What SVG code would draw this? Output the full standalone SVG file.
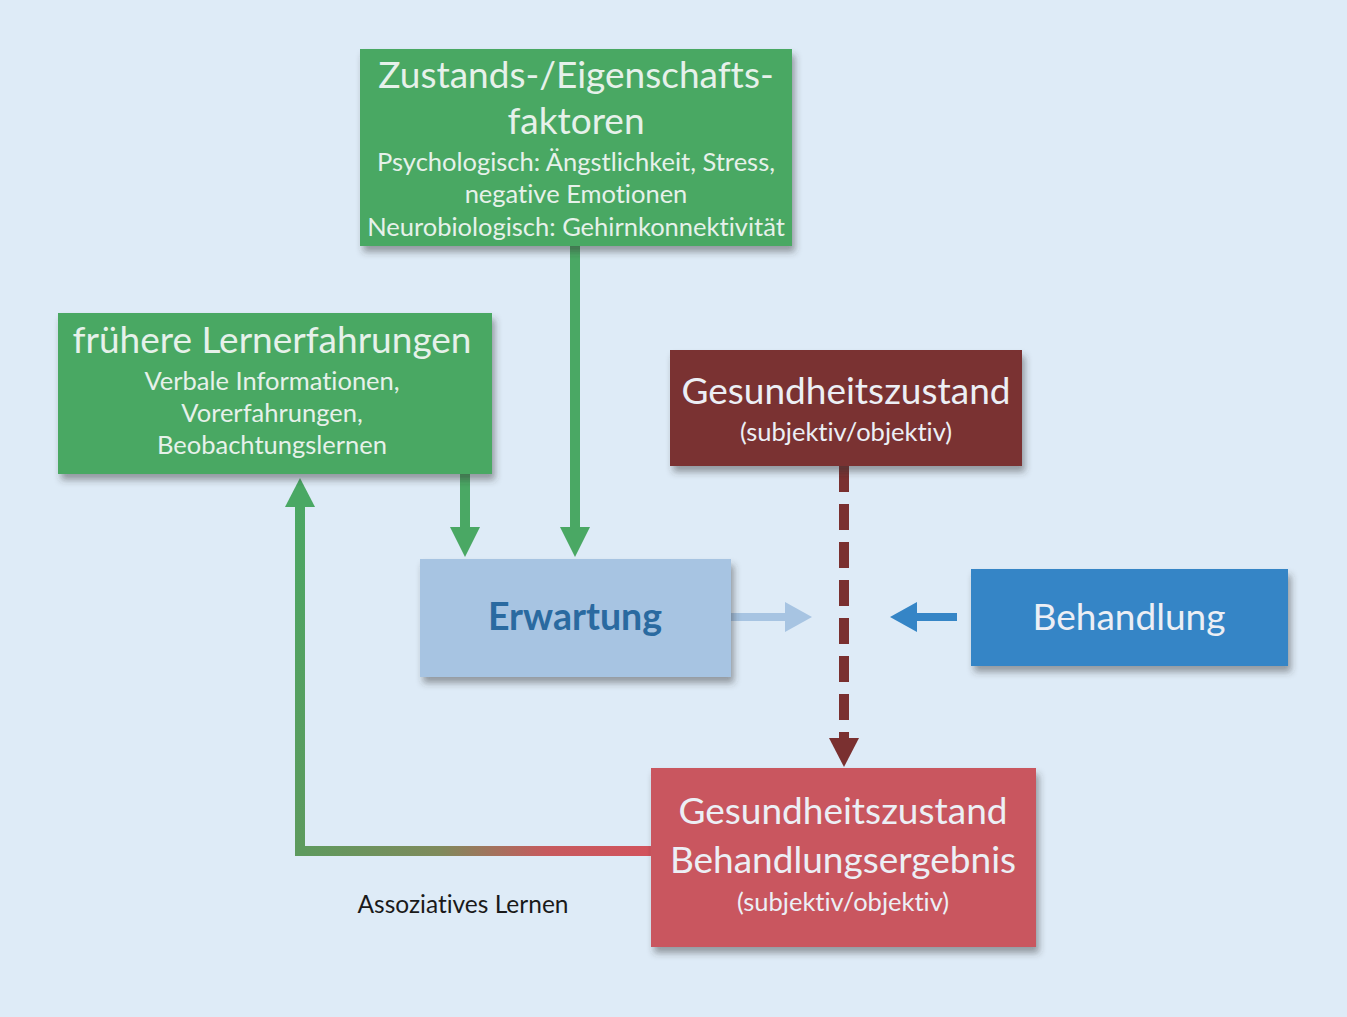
<svg xmlns="http://www.w3.org/2000/svg" width="1347" height="1017" viewBox="0 0 1347 1017">
<defs>
<style>
text{font-family:Lato,"Open Sans","Liberation Sans",sans-serif;text-anchor:middle;font-variant-ligatures:none}
.t{font-size:37px;fill:#e6f1ea}
.s{font-size:25.5px;fill:#e6f1ea}
.w{fill:#eceff5}
</style>
<filter id="sh" x="-10%" y="-10%" width="130%" height="140%">
<feDropShadow dx="3" dy="6" stdDeviation="3.5" flood-color="#333" flood-opacity="0.45"/>
</filter>
<linearGradient id="lg" gradientUnits="userSpaceOnUse" x1="651" y1="0" x2="300" y2="0">
<stop offset="0" stop-color="#d2535d"/>
<stop offset="0.3" stop-color="#c65a5e"/>
<stop offset="0.6" stop-color="#7f8a5c"/>
<stop offset="1" stop-color="#5d9a5e"/>
</linearGradient>
<linearGradient id="lgv" gradientUnits="userSpaceOnUse" x1="0" y1="851" x2="0" y2="480">
<stop offset="0" stop-color="#5d9a5e"/>
<stop offset="1" stop-color="#4aa864"/>
</linearGradient>
</defs>
<rect width="1347" height="1017" fill="#deebf7"/>

<g id="connectors">
<line x1="575" y1="246" x2="575" y2="528" stroke="#4aa864" stroke-width="10"/>
<polygon points="560,527 590,527 575,557" fill="#4aa864"/>
<line x1="465" y1="474" x2="465" y2="528" stroke="#4aa864" stroke-width="10"/>
<polygon points="450,527 480,527 465,557" fill="#4aa864"/>
<polyline points="651,851 300,851" fill="none" stroke="url(#lg)" stroke-width="10"/>
<line x1="300" y1="856" x2="300" y2="505" stroke="url(#lgv)" stroke-width="10"/>
<polygon points="285,507 315,507 300,478" fill="#4aa864"/>
<line x1="731" y1="617" x2="787" y2="617" stroke="#a7c4e2" stroke-width="8"/>
<polygon points="785,602 812,617 785,632" fill="#a7c4e2"/>
<line x1="957" y1="617" x2="914" y2="617" stroke="#3585c6" stroke-width="8"/>
<polygon points="917,602 890,617 917,632" fill="#3585c6"/>
<line x1="844" y1="466" x2="844" y2="740" stroke="#7a3030" stroke-width="10" stroke-dasharray="26,12"/>
<polygon points="829,738 859,738 844,767" fill="#7a3030"/>
</g>

<g id="n-faktoren">
<rect x="360" y="49" width="432" height="197" fill="#4aa864" filter="url(#sh)"/>
<text x="576" y="88" class="t">Zustands-/Eigenschafts-</text>
<text x="576" y="134" class="t">faktoren</text>
<text x="576" y="171" class="s">Psychologisch: Ängstlichkeit, Stress,</text>
<text x="576" y="203" class="s">negative Emotionen</text>
<text x="576" y="236" class="s">Neurobiologisch: Gehirnkonnektivität</text>
</g>

<g id="n-lern">
<rect x="58" y="313" width="434" height="161" fill="#4aa864" filter="url(#sh)"/>
<text x="272" y="353" class="t">frühere Lernerfahrungen</text>
<text x="272" y="390" class="s">Verbale Informationen,</text>
<text x="272" y="422" class="s">Vorerfahrungen,</text>
<text x="272" y="454" class="s">Beobachtungslernen</text>
</g>

<g id="n-gesund">
<rect x="670" y="350" width="352" height="116" fill="#7a3030" filter="url(#sh)"/>
<text x="846" y="404" class="t w">Gesundheitszustand</text>
<text x="846" y="441" class="s w">(subjektiv/objektiv)</text>
</g>

<g id="n-erwartung">
<rect x="420" y="559" width="311" height="118" fill="#a7c4e2" filter="url(#sh)"/>
<text x="575" y="630" font-size="37.5" font-weight="bold" fill="#2a6aa0">Erwartung</text>
</g>

<g id="n-behandlung">
<rect x="971" y="569" width="317" height="97" fill="#3585c6" filter="url(#sh)"/>
<text x="1129" y="630" class="t w">Behandlung</text>
</g>

<g id="n-ergebnis">
<rect x="651" y="768" width="385" height="179" fill="#c9575f" filter="url(#sh)"/>
<text x="843" y="824" class="t w">Gesundheitszustand</text>
<text x="843" y="873" class="t w">Behandlungsergebnis</text>
<text x="843" y="911" class="s w">(subjektiv/objektiv)</text>
</g>

<text id="lbl" x="463" y="913" font-size="24.5" fill="#1a1a1a">Assoziatives Lernen</text>
</svg>
